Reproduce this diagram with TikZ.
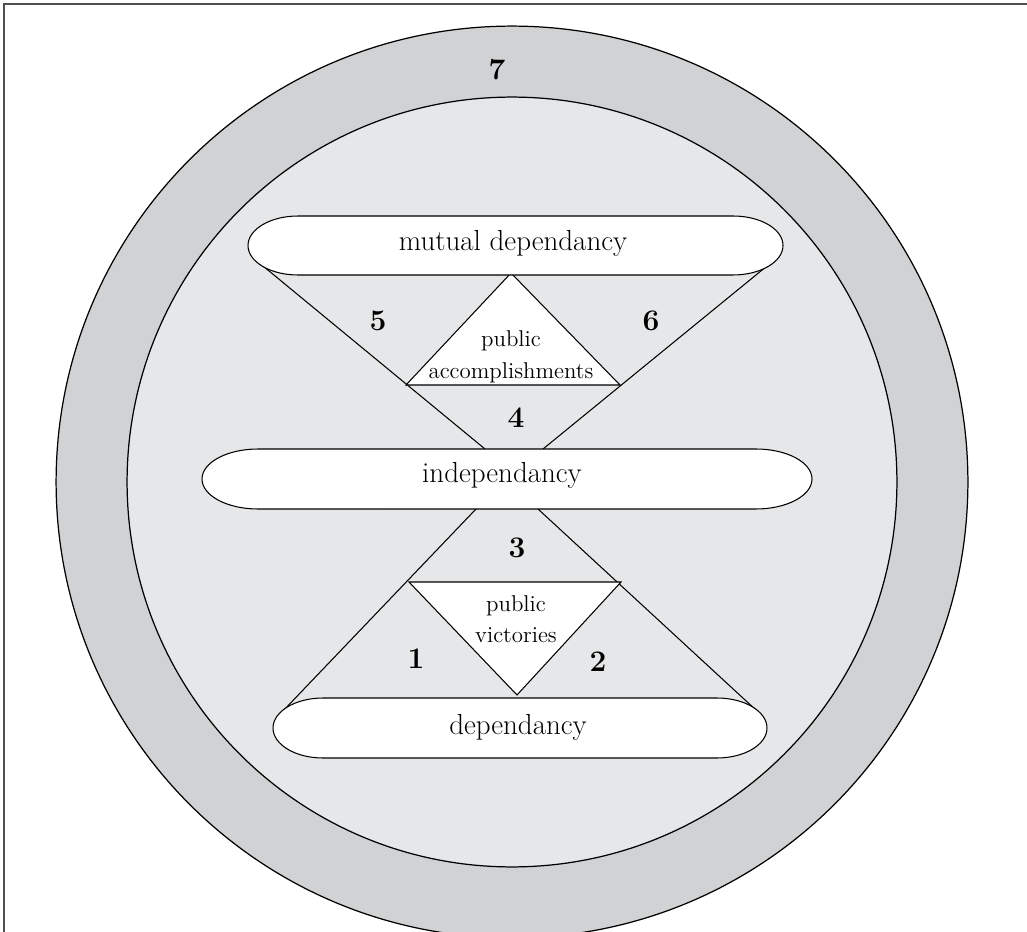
\documentclass[tikz,border=0pt]{standalone}
\usepackage{xcolor}
\usepackage{tikz}
\usetikzlibrary{positioning, calc}
\definecolor{ringgray}{RGB}{209,210,212}
\definecolor{diskgray}{RGB}{230,231,232}
\definecolor{framegray}{RGB}{80,80,80}
\tikzset{
  pill/.style={draw=black, fill=white, line width=0.6pt},
  pilltext/.style={font=\fontsize{16.5}{20}\selectfont, inner sep=0pt},
  tri/.style={draw=black, fill=white, line width=0.6pt},
  tritext/.style={align=center, inner sep=0pt, font=\fontsize{13}{18}\selectfont},
  num/.style={inner sep=0pt, font=\fontsize{17}{20}\selectfont\bfseries},
  edge/.style={line width=0.6pt, color=black}
}

\begin{document}
\begin{tikzpicture}[x=0.02cm, y=-0.02cm]
  \useasboundingbox (0,0) rectangle (1027,932);
  % Frame
  \draw[framegray, line width=1pt] (4,932) -- (4,4) -- (1027,4);

  % Rings
  \node[coordinate] (ctr) at (512,482) {};
  \fill[ringgray, draw=black, line width=0.7pt] (ctr) circle[radius=9.12cm];
  \fill[diskgray, draw=black, line width=0.7pt] (ctr) circle[radius=7.7cm];
  \node[num] (n7) at (497,70) {7};

  % Corner points
  \coordinate (mdL) at (263,266);
  \coordinate (mdR) at (767,266);
  \coordinate (inTL) at (485,449);
  \coordinate (inTR) at (543,449);
  \coordinate (inBL) at (476,509);
  \coordinate (inBR) at (538,509);
  \coordinate (deL) at (282,712);
  \coordinate (deR) at (757,711);
  \coordinate (accT) at (511,273);
  \coordinate (accL) at (406,385);
  \coordinate (accR) at (620,385);
  \coordinate (vicL) at (409,582);
  \coordinate (vicR) at (621,582);
  \coordinate (vicB) at (517,695);

  % Hourglass lines
  \draw[edge] (mdL) -- (inTL);
  \draw[edge] (mdR) -- (inTR);
  \draw[edge] (inBL) -- (deL);
  \draw[edge] (inBR) -- (deR);

  % Triangles
  \draw[tri] (accT) -- (accL) -- (accR) -- cycle;
  \draw[tri] (vicL) -- (vicR) -- (vicB) -- cycle;
  \node[tritext] (acc) at (511,357) {public\\accomplishments};
  \node[tritext] (vic) at (516,619) {public\\victories};

  % Pills
  \draw[pill] (298,216) -- (733,216) arc[start angle=90, end angle=-90, x radius=1cm, y radius=0.59cm]
    -- (298,275) arc[start angle=270, end angle=90, x radius=1cm, y radius=0.59cm] -- cycle;
  \draw[pill] (258,449) -- (756,449) arc[start angle=90, end angle=-90, x radius=1.12cm, y radius=0.6cm]
    -- (258,509) arc[start angle=270, end angle=90, x radius=1.12cm, y radius=0.6cm] -- cycle;
  \draw[pill] (323,698) -- (717,698) arc[start angle=90, end angle=-90, x radius=1cm, y radius=0.6cm]
    -- (323,758) arc[start angle=270, end angle=90, x radius=1cm, y radius=0.6cm] -- cycle;
  \node[pilltext] (mutual) at (513,243) {mutual dependancy};
  \node[pilltext] (indep) at (502,475) {independancy};
  \node[pilltext] (dep) at (518,727) {dependancy};

  % Numbers
  \node[num] (n5) at (378,321) {5};
  \node[num] (n6) at (651,321) {6};
  \node[num] (n4) at (516,418) {4};
  \node[num] (n3) at (517,548) {3};
  \node[num] (n1) at (416,659) {1};
  \node[num] (n2) at (598,662) {2};
\end{tikzpicture}
\end{document}
